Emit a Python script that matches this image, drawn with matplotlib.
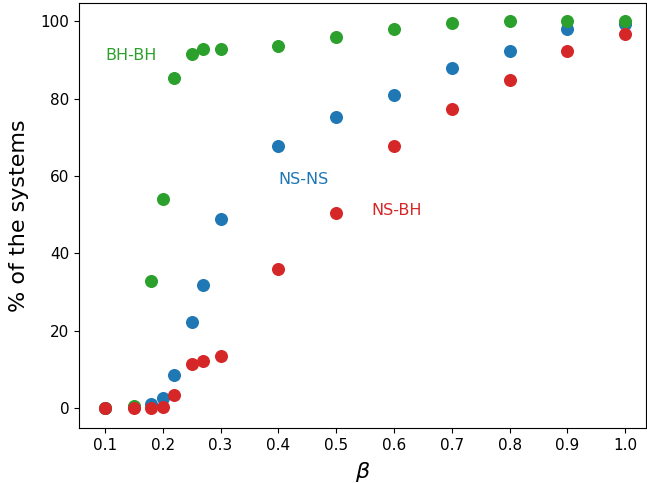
import matplotlib
matplotlib.use("Agg")
import matplotlib.pyplot as plt

beta = [0.1, 0.15, 0.18, 0.2, 0.22, 0.25, 0.27, 0.3, 0.4, 0.5, 0.6, 0.7, 0.8, 0.9, 1.0]
ns_ns = [0.0, 0.2, 1.1, 2.5, 8.5, 22.1, 31.8, 48.9, 67.7, 75.3, 80.9, 87.9, 92.4, 97.9, 99.2]
bh_bh = [0.0, 0.5, 32.8, 54.0, 85.2, 91.5, 92.8, 92.9, 93.6, 95.9, 97.9, 99.6, 100.0, 100.0, 100.0]
ns_bh = [0.0, 0.0, 0.1, 0.2, 3.3, 11.3, 12.1, 13.3, 36.0, 50.4, 67.7, 77.3, 84.8, 92.2, 96.6]

fig = plt.figure(figsize=(6.47, 4.84), dpi=100)
ax = fig.add_axes([0.1221, 0.1157, 0.8764, 0.8781])

ax.scatter(beta, ns_ns, s=70, color='tab:blue', zorder=2)
ax.scatter(beta, bh_bh, s=70, color='tab:green', zorder=3)
ax.scatter(beta, ns_bh, s=70, color='tab:red', zorder=4)

ax.text(0.1, 90, 'BH-BH', color='tab:green', fontsize=11.5)
ax.text(0.4, 58, 'NS-NS', color='tab:blue', fontsize=11.5)
ax.text(0.56, 50, 'NS-BH', color='tab:red', fontsize=11.5)

ax.set_xlim(0.055, 1.036)
ax.set_ylim(-5.2, 104.7)
ax.set_xticks([0.1, 0.2, 0.3, 0.4, 0.5, 0.6, 0.7, 0.8, 0.9, 1.0])
ax.set_yticks([0, 20, 40, 60, 80, 100])
ax.tick_params(labelsize=11)
ax.set_xlabel(r'$\beta$', fontsize=16, labelpad=5)
ax.set_ylabel('% of the systems', fontsize=16, labelpad=8)

fig.savefig('out.png', dpi=100)
